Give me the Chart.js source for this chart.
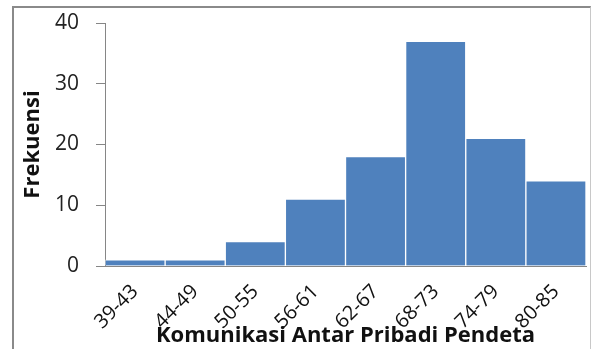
<!DOCTYPE html>
<html>
<head>
<meta charset="utf-8">
<script src="https://cdn.jsdelivr.net/npm/chart.js@4.4.1/dist/chart.umd.min.js"></script>
<style>
  body { margin: 0; background: white; }
  #wrap { position: relative; width: 591px; height: 349px; overflow: hidden; }
  #frame { position: absolute; left: 12px; top: 6px; width: 576px; height: 360px;
           border-left: 2px solid #8a8a8a; border-top: 2px solid #8a8a8a; border-right: 1px solid #c8c8c8;
           pointer-events: none; }
</style>
</head>
<body>
<div id="wrap">
  <canvas id="rendcont" width="591" height="349"></canvas>
  <div id="frame"></div>
</div>
<script>
let categories = ["39-43", "44-49", "50-55", "56-61", "62-67", "68-73", "74-79", "80-85"];
let frekuensi = [1, 1, 4, 11, 18, 37, 21, 14];
let yTicks = [0, 10, 20, 30, 40];

let ctx = document.getElementById("rendcont");
let cont = ctx.getContext("2d");
Chart.defaults.font.family = "'Open Sans'";
Chart.defaults.color = "#222";

let cht = new Chart(cont, {
  type: 'bar',
  data: {
    labels: categories,
    datasets: [{
      label: 'Frekuensi',
      data: frekuensi,
      backgroundColor: "#4f81bd",
      borderColor: "rgba(255,255,255,0.55)",
      borderWidth: 1,
      barPercentage: 1.0,
      categoryPercentage: 1.0
    }]
  },
  options: {
    responsive: false,
    animation: false,
    layout: { padding: { left: 0, top: 23, right: 5, bottom: 0 } },
    plugins: { legend: { display: false }, tooltip: { enabled: false } },
    scales: {
      x: {
        grid: { display: true, drawOnChartArea: false, drawTicks: false },
        border: { display: true, color: "#868686" },
        ticks: { minRotation: 45, maxRotation: 45, padding: 14, font: { size: 20 }, color: "#111" },
        title: { display: true, text: "Komunikasi Antar Pribadi Pendeta",
                 font: { size: 22, weight: 'bold' }, color: "#111", padding: { top: 0, bottom: 0 } },
        afterFit: (scale) => { scale.height = 83; }
      },
      y: {
        min: 0, max: 40,
        afterBuildTicks: (scale) => { scale.ticks = yTicks.map(v => ({ value: v })); },
        grid: { drawOnChartArea: false, drawTicks: true, tickLength: 9, color: "#868686" },
        border: { display: true, color: "#868686" },
        ticks: { padding: 17, font: { size: 21 }, color: "#222" },
        title: { display: true, text: "Frekuensi",
                 font: { size: 22, weight: 'bold' }, color: "#111", padding: { top: 20, bottom: 0 } },
        afterFit: (scale) => {
          scale.width = 105;
          // tick padding gets added on top/bottom too, drop it
          scale.paddingTop = 12;
          scale.paddingBottom = 12;
        }
      }
    }
  }
});
</script>
</body>
</html>
